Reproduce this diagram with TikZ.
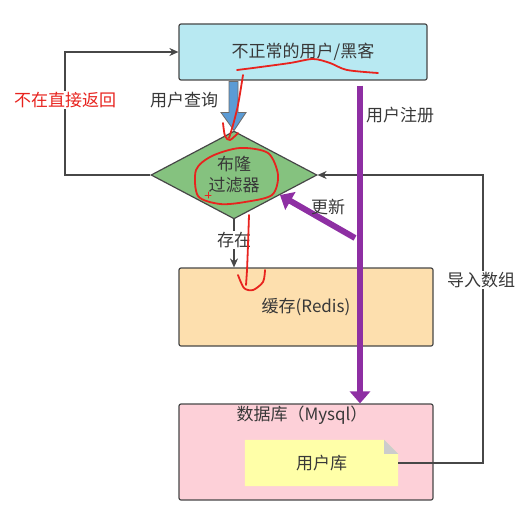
\documentclass[tikz,border=0pt]{standalone}
\usepackage{fontspec}
\setmainfont{Noto Sans CJK SC}
\usetikzlibrary{shapes.geometric,arrows.meta,calc}

\definecolor{boxline}{HTML}{474747}
\definecolor{hackfill}{HTML}{B8E9F2}
\definecolor{bloomfill}{HTML}{85C27F}
\definecolor{redisfill}{HTML}{FDDFAE}
\definecolor{dbfill}{HTML}{FDD0D8}
\definecolor{notefill}{HTML}{FFFFA8}
\definecolor{queryblue}{HTML}{5B9BD5}
\definecolor{regpurple}{HTML}{8E2FA3}
\definecolor{penred}{HTML}{E8231E}
\definecolor{txt}{HTML}{383838}

\tikzset{
  box/.style={draw=boxline, line width=1.2pt, rounded corners=2pt, inner sep=0pt, text=txt},
  lbl/.style={text=txt, inner sep=1pt},
  flow/.style={draw=boxline, line width=1.2pt, -{Stealth[length=9pt,width=8pt]}},
  blockblue/.style={draw=boxline!80, line width=0.8pt, fill=queryblue, line join=miter},
  fatpurple/.style={draw=regpurple, line width=6pt, -{Triangle[length=12pt,width=20pt]}},
  scribble/.style={draw=penred, line width=1.8pt, line cap=round, line join=round},
}

\begin{document}
\begin{tikzpicture}[x=1pt,y=-1pt,font=\fontsize{17}{21}\selectfont]
  \useasboundingbox (0,0) rectangle (518,516);

  % Kaesten
  \node[box, fill=hackfill, minimum width=248pt, minimum height=56pt] (hacker) at (303,52) {不正常的用户/黑客};
  \node[diamond, draw=boxline, line width=1.2pt, fill=bloomfill, minimum width=166pt, minimum height=83pt,
        inner sep=0pt, align=center, text=txt] (bloom) at (234,175) {布隆\\过滤器};
  \node[box, fill=redisfill, minimum width=254pt, minimum height=78pt] (redis) at (306,307) {缓存(Redis)};
  \node[box, fill=dbfill, minimum width=254pt, minimum height=96pt] (mysql) at (306,452) {};
  \node[lbl] (mysqltitle) at (302,415) {数据库（Mysql）};

  % Notiz mit Eselsohr
  \node[minimum width=153pt, minimum height=46pt, inner sep=0pt] (userdb) at (321.5,463) {};
  \fill[notefill] (userdb.north west) -- ($(userdb.north east)+(-14,0)$) -- ($(userdb.north east)+(0,14)$)
    -- (userdb.south east) -- (userdb.south west) -- cycle;
  \fill[black!20] ($(userdb.north east)+(-14,0)$) -- ($(userdb.north east)+(0,14)$) -- ($(userdb.north east)+(-14,14)$) -- cycle;
  \node[lbl] at (userdb) {用户库};

  % Hilfspunkte
  \coordinate (leftx) at (65,0);
  \coordinate (rightx) at (483,0);
  \coordinate (regx) at (360,0);
  \coordinate (updstart) at (355,238);

  % Verbindungen
  \draw[flow] (bloom.west) -- (bloom.west -| leftx) -- (hacker.west -| leftx) -- (hacker.west);
  \draw[flow] (userdb.east) -- (userdb.east -| rightx) -- (bloom.east -| rightx) -- (bloom.east);
  \draw[flow] (bloom.south) -- (bloom.south |- redis.north);
  \draw[blockblue] ($(bloom.north)+(-5,-49)$) -- ++(9,0) -- ++(0,31) -- ++(8,0) -- (bloom.north)
    -- ++(-13,-18) -- ++(8,0) -- cycle;
  \draw[fatpurple, shorten <=5pt] (hacker.south -| regx) -- (mysql.north -| regx);
  \draw[fatpurple] (updstart) -- ($(bloom.east)!0.45!(bloom.south)$);

  % Beschriftungen
  \node[lbl] (querylbl) at (184,100) {用户查询};
  \node[lbl, fill=white, text=penred] (notinlbl) at (65,100) {不在直接返回};
  \node[lbl] (reglbl) at (400,115) {用户注册};
  \node[lbl] (updlbl) at (328,207) {更新};
  \node[lbl, fill=white] (existlbl) at (234,240) {存在};
  \node[lbl, fill=white] (importlbl) at (481,280) {导入数组};

  % rote Anmerkungen
  \draw[scribble] plot[smooth] coordinates {(237,70) (253,68) (290,63) (313,59) (330,63) (347,70) (378,73)};
  \draw[scribble] plot[smooth] coordinates {(243,75) (238,105) (233,125) (229,138)};
  \draw[scribble] plot[smooth] coordinates {(223,123) (225,136) (230,140) (238,133)};
  \draw[scribble] plot[smooth cycle] coordinates {(212,156) (240,148) (268,153) (278,175) (272,195) (245,202) (220,204) (198,196) (196,170)};
  \draw[scribble, line width=1pt] (205,195) -- (211,195) (208,192) -- (208,198);
  \draw[scribble] plot[smooth] coordinates {(249,215) (248,245) (247,270) (246,285)};
  \draw[scribble] plot[smooth] coordinates {(238,275) (244,288) (253,290) (263,282) (265,270)};
\end{tikzpicture}
\end{document}
